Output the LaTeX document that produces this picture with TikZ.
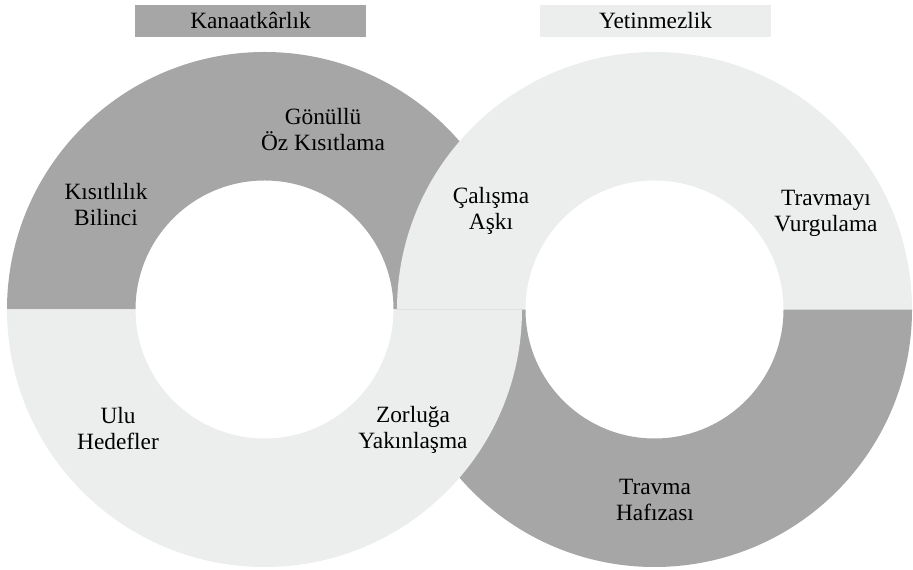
\documentclass[tikz,border=0pt]{standalone}
\usepackage{fontspec}
\setmainfont{Liberation Serif}

\definecolor{kanaatgray}{HTML}{A6A6A6}
\definecolor{yetingray}{HTML}{ECEDED}

\newcommand{\outerr}{257.5}
\newcommand{\innerr}{129}
\newcommand{\ringw}{128.5}

% half of a ring: centre, start angle, style
\newcommand{\halfring}[3]{%
  \fill[#3] (#1) ++(#2:\outerr) arc[start angle=#2, delta angle=180, radius=\outerr]
    -- ++(#2:\ringw) arc[start angle=#2+180, delta angle=-180, radius=\innerr] -- cycle;}

\tikzset{
  every part/.style={font=\fontsize{17.5}{19.5}\selectfont, align=center, inner sep=0pt},
  title box/.style={every part, minimum width=173.25pt, minimum height=24pt},
}

\begin{document}
\begin{tikzpicture}[x=0.75pt, y=0.75pt]

    \useasboundingbox (0,0) rectangle (913,570);

    \coordinate (left-centre) at (264.5,260.5);
    \coordinate (right-centre) at (654.5,260.5);

    % rings, drawn so that they interlock
    \halfring{left-centre}{0}{kanaatgray}
    \halfring{right-centre}{180}{kanaatgray}
    \halfring{right-centre}{0}{yetingray}
    \halfring{left-centre}{180}{yetingray}

    \node [title box, fill=kanaatgray] (title-kanaat) at (250.5,549) {Kanaatkârlık};
    \node [title box, fill=yetingray] (title-yetin) at (655.5,549) {Yetinmezlik};

    \foreach \txt/\px/\py [count=\i] in {
        {Kısıtlılık\\Bilinci}/106/365,
        {Gönüllü\\Öz Kısıtlama}/323/440,
        {Çalışma\\Aşkı}/491/359,
        {Travmayı\\Vurgulama}/826/357,
        {Ulu\\Hedefler}/118/141,
        {Zorluğa\\Yakınlaşma}/413/140,
        {Travma\\Hafızası}/655/70}
      \node [every part] (part-\i) at (\px,\py) {\txt};

\end{tikzpicture}
\end{document}
